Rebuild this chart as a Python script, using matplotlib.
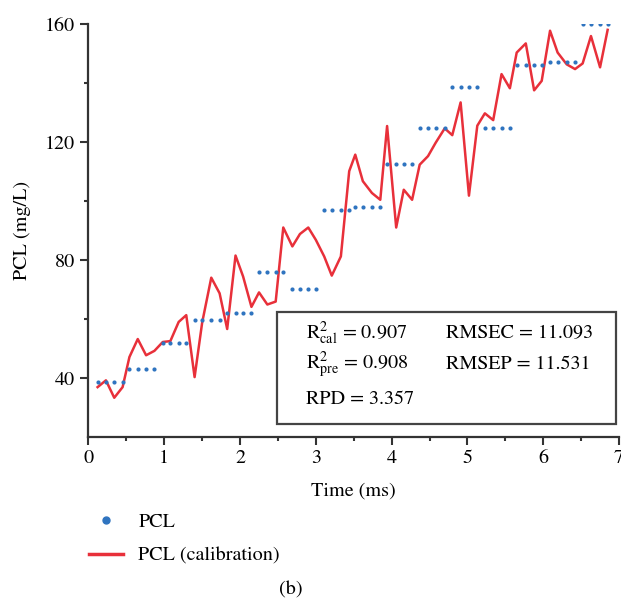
import matplotlib
matplotlib.use('Agg')
import matplotlib.pyplot as plt
from matplotlib.lines import Line2D
from matplotlib.patches import Rectangle

plt.rcParams['font.family'] = 'STIXGeneral'
plt.rcParams['mathtext.fontset'] = 'stix'

# sample times (ms)
time = [0.12, 0.23, 0.34, 0.45, 0.54, 0.65, 0.76, 0.87,
        0.98, 1.08, 1.19, 1.29, 1.40, 1.50, 1.62, 1.73,
        1.83, 1.94, 2.04, 2.15, 2.25, 2.36, 2.47, 2.57,
        2.69, 2.79, 2.90, 3.00, 3.11, 3.21, 3.33, 3.44,
        3.52, 3.62, 3.74, 3.85, 3.94, 4.06, 4.16, 4.27,
        4.37, 4.48, 4.58, 4.70, 4.80, 4.91, 5.02, 5.13,
        5.23, 5.34, 5.45, 5.56, 5.65, 5.77, 5.88, 5.98,
        6.09, 6.19, 6.31, 6.42, 6.52, 6.63, 6.75, 6.85]

# measured PCL (mg/L)
pcl = [38.5, 38.5, 38.5, 38.5, 43, 43, 43, 43,
       52, 52, 52, 52, 59.5, 59.5, 59.5, 59.5,
       62, 62, 62, 62, 76, 76, 76, 76,
       70, 70, 70, 70, 97, 97, 97, 97,
       98, 98, 98, 98, 112.5, 112.5, 112.5, 112.5,
       124.7, 124.7, 124.7, 124.7, 138.6, 138.6, 138.6, 138.6,
       124.7, 124.7, 124.7, 124.7, 146, 146, 146, 146,
       147, 147, 147, 147, 160, 160, 160, 160]

# calibration prediction
pcl_cal = [36.9, 39.2, 33.3, 36.9, 47.1, 53.2, 47.7, 49.2,
           52.2, 52.5, 59.0, 61.3, 40.3, 58.8, 74.0, 68.7,
           56.6, 81.5, 74.4, 64.1, 69.0, 64.9, 65.9, 91.0,
           84.6, 88.8, 91.0, 86.8, 81.2, 74.7, 81.2, 110.1,
           115.7, 106.7, 102.7, 100.4, 125.4, 91.0, 103.8, 100.4,
           112.3, 115.2, 119.7, 124.6, 122.3, 133.4, 101.8, 125.5,
           129.7, 127.4, 143.0, 138.2, 150.3, 153.4, 137.5, 140.7,
           157.7, 150.3, 146.3, 144.7, 146.6, 155.9, 145.3, 158.0]

stats_lines = [(r'R$^2_{\mathrm{cal}}$ = 0.907', 'RMSEC = 11.093'),
               (r'R$^2_{\mathrm{pre}}$ = 0.908', 'RMSEP = 11.531'),
               ('RPD = 3.357', '')]

blue = '#2f74c0'
red = '#e8303a'

fig = plt.figure(figsize=(6.21, 6.03), dpi=100)
ax = fig.add_axes([0.1425, 0.2753, 0.8543, 0.685])

ax.plot(time, pcl_cal, color=red, lw=1.8, zorder=2)
ax.scatter(time, pcl, s=9, color=blue, zorder=3, linewidths=0)

ax.set_xlim(0, 7)
ax.set_ylim(20, 160)
ax.set_xticks(range(0, 8))
ax.set_xticks([0.5 + i for i in range(7)], minor=True)
ax.set_yticks([40, 80, 120, 160])
ax.set_yticks([60, 100, 140], minor=True)
for s in ['top', 'right']:
    ax.spines[s].set_visible(False)
for s in ['left', 'bottom']:
    ax.spines[s].set_linewidth(1.6)
    ax.spines[s].set_color('#333333')
ax.tick_params(which='major', length=6, width=1.5, color='#333333', labelsize=14.5)
ax.tick_params(which='minor', length=3, width=1.5, color='#333333')
ax.set_xlabel('Time (ms)', fontsize=14.5, labelpad=11)
ax.set_ylabel('PCL (mg/L)', fontsize=14.5, labelpad=10)

box = Rectangle((0.355, 0.031), 0.64, 0.272, transform=ax.transAxes,
                fill=False, edgecolor='#444444', lw=1.6, clip_on=False)
ax.add_patch(box)
row_y = [0.25, 0.175, 0.09]
for (left_txt, right_txt), yy in zip(stats_lines, row_y):
    ax.text(0.41, yy, left_txt, transform=ax.transAxes, fontsize=14.5, va='center')
    ax.text(0.673, yy, right_txt, transform=ax.transAxes, fontsize=14.5, va='center')

handles = [Line2D([], [], marker='o', ls='none', color=blue, markersize=5),
           Line2D([], [], color=red, lw=2.5)]
fig.legend(handles, ['PCL', 'PCL (calibration)'], loc='upper left',
           bbox_to_anchor=(0.114, 0.18), frameon=False, fontsize=14.5,
           handlelength=1.7, handletextpad=0.75, labelspacing=0.8)

fig.text(0.468, 0.022, '(b)', fontsize=14.5, ha='center', va='center')

fig.savefig('out.png', dpi=100)
